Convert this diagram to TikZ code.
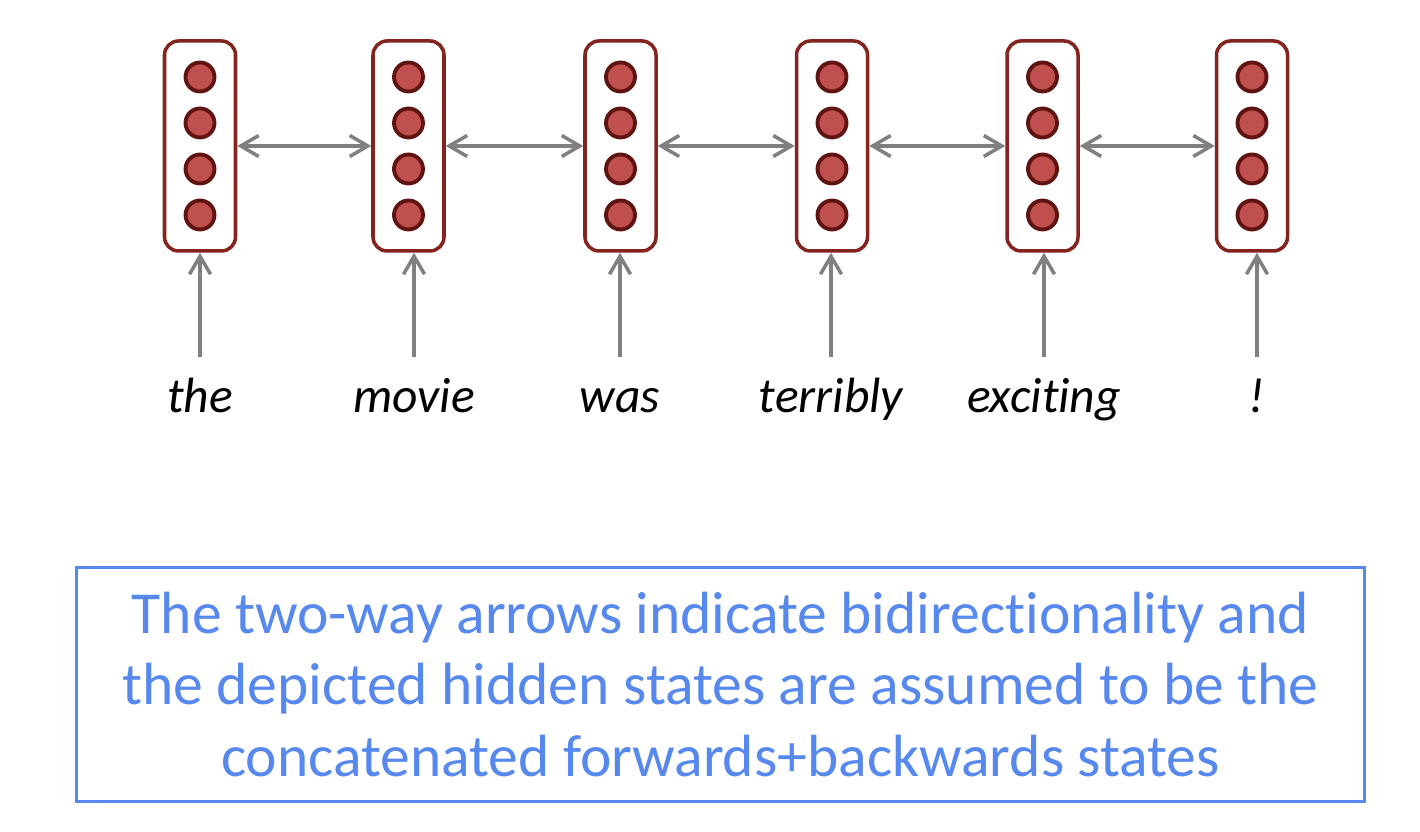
\documentclass[tikz,border=0pt]{standalone}
\usepackage{fontspec}
\setmainfont{Carlito}[Ligatures=NoCommon]
\usepackage{tikz}
\usetikzlibrary{arrows.meta}
\definecolor{cellred}{RGB}{192,80,77}
\definecolor{cellrim}{RGB}{95,20,18}
\definecolor{boxrim}{RGB}{132,36,30}
\definecolor{arrowgray}{RGB}{128,128,128}
\definecolor{noteblue}{RGB}{86,136,238}

\begin{document}
\begin{tikzpicture}[
  hidden/.style={draw=boxrim,line width=1pt,rounded corners=4pt,
    minimum width=0.71cm,minimum height=2.10cm,inner sep=0pt},
  unit/.style={circle,fill=cellred,draw=cellrim,line width=1.1pt,
    minimum size=0.29cm,inner sep=0pt},
  word/.style={font=\fontsize{14.1}{16}\selectfont\itshape,anchor=base,
    text height=0.33cm,text depth=0.1cm,inner xsep=0pt,inner ysep=0.22cm},
  link/.style={draw=arrowgray,line width=1pt},
  barb/.tip={Straight Barb[length=1.8mm,width=2.1mm]}
]
\useasboundingbox (0,0) rectangle (14.2,8.32);

% hidden states
\foreach \i/\x in {1/2.00,2/4.085,3/6.205,4/8.32,5/10.425,6/12.52}
{
  \node[hidden] (h\i) at (\x,6.86) {};
  \foreach \k/\dy in {1/0.69,2/0.23,3/-0.23,4/-0.69}
    \node[unit] (h\i-\k) at ([yshift=\dy cm]h\i.center) {};
}

% words
\node[word] (w1) at (2.00,4.19) {the};
\node[word] (w2) at (4.14,4.19) {movie};
\node[word] (w3) at (6.20,4.19) {was};
\node[word] (w4) at (8.31,4.19) {terribly};
\node[word] (w5) at (10.44,4.19) {exciting};
\node[word] (w6) at (12.57,4.19) {!};

\foreach \i in {1,...,6}
  \draw[link,-barb] (w\i.north) -- (w\i.north |- h\i.south);

\foreach \i/\j in {1/2,2/3,3/4,4/5,5/6}
  \draw[link,barb-barb] (h\i.east) -- (h\j.west);

% note
\node[draw=noteblue,line width=1pt,minimum width=12.88cm,minimum height=2.34cm,
  align=center,text=noteblue,font=\fontsize{16.95}{20.3}\selectfont] (note) at (7.205,1.475)
{The two-way arrows indicate bidirectionality and\\
the depicted hidden states are assumed to be the\\
concatenated forwards+backwards states};
\end{tikzpicture}
\end{document}
